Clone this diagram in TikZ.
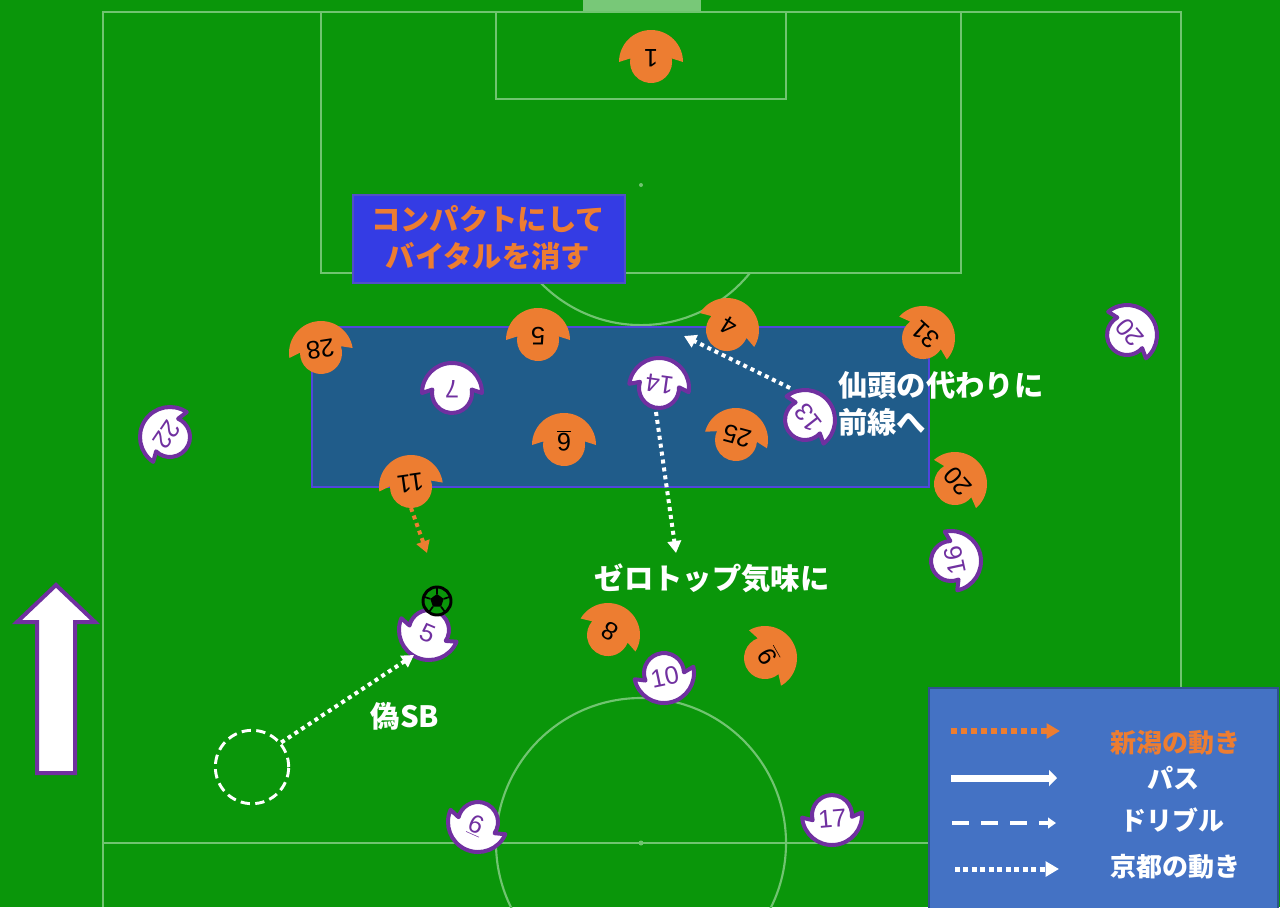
\documentclass[tikz,border=0pt]{standalone}
\usepackage{fontspec}
\newfontfamily\jpf{Noto Sans CJK JP}
\newfontfamily\numf{Liberation Sans}
\usetikzlibrary{arrows.meta}
\definecolor{grass}{RGB}{10,150,10}
\definecolor{fline}{RGB}{112,196,112}
\definecolor{goalc}{RGB}{120,200,120}
\definecolor{nig}{RGB}{237,125,49}
\definecolor{kyo}{RGB}{112,48,160}
\definecolor{legblue}{RGB}{68,114,196}
\definecolor{legedge}{RGB}{47,82,143}
\definecolor{zone}{RGB}{32,92,138}
\definecolor{zoneedge}{RGB}{80,70,220}
\definecolor{titlebox}{RGB}{52,60,228}
\definecolor{titleedge}{RGB}{80,80,200}
\newcommand\nplayer[5]{%
  \begin{scope}[shift={(#2,#3)},rotate=#4]
    \fill[nig] (-32,0) arc[start angle=180,end angle=360,radius=32] -- (20.7,-3.6) arc[start angle=-10,end angle=190,radius=21] -- cycle;
    \node[numn,rotate=#4+180] (#1) at (0,-4) {#5};
  \end{scope}}
\newcommand\kplayer[5]{%
  \begin{scope}[shift={(#2,#3)},rotate=#4]
    \filldraw[fill=white,draw=kyo,line width=3pt,line join=round] (-30,0) arc[start angle=180,end angle=360,radius=30] -- (19.7,-3.5) arc[start angle=-10,end angle=190,radius=20] -- cycle;
    \node[numk,rotate=#4+180] (#1) at (0,-4) {#5};
  \end{scope}}
\begin{document}
\begin{tikzpicture}[x=0.75pt,y=-0.75pt,
  fl/.style={draw=fline,line width=1.6pt},
  numn/.style={font=\numf\fontsize{19}{19}\selectfont,text=black,inner sep=0pt},
  numk/.style={font=\numf\fontsize{19}{19}\selectfont,text=kyo,inner sep=0pt},
  jtxt/.style={font=\jpf\bfseries\fontsize{22}{27.75}\selectfont,text=white,inner sep=0pt},
  legtxt/.style={font=\jpf\bfseries\fontsize{19.5}{22}\selectfont,text=white,inner sep=0pt},
  wdot/.style={draw=white,line width=3pt,dash pattern=on 3pt off 3pt,-{Triangle[length=9pt,width=10pt]}},
  odot/.style={draw=nig,line width=3pt,dash pattern=on 3pt off 3pt,-{Triangle[length=9pt,width=10pt]}}]
\fill[grass] (0,0) rectangle (1280,907);
\useasboundingbox (0,0) rectangle (1280,907);
% field
\fill[goalc] (583,0) rectangle (701,12);
\draw[fl] (103,907) -- (103,12) -- (1181,12) -- (1181,907);
\draw[fl] (321,12) -- (321,273) -- (961,273) -- (961,12);
\draw[fl] (496,12) -- (496,99) -- (786,99) -- (786,12);
\draw[fl] (749.9,273) arc[start angle=38.9,end angle=141.1,radius=140];
\fill[fline] (641,185) circle[radius=2];
\draw[fl] (103,843) -- (1181,843);
\draw[fl] (641,843) circle[radius=145];
\fill[fline] (641,843) circle[radius=2.5];
% zone and title
\draw[fill=zone,draw=zoneedge,line width=1pt] (312,327) rectangle (929,487);
\draw[fill=titlebox,draw=titleedge,line width=1pt] (353,195) rectangle (625,283);
\node[jtxt,text=nig,align=center] (title) at (488,238) {コンパクトにして\\バイタルを消す};
% big arrow
\draw[kyo,line width=3pt,fill=white,line join=miter] (37,773) -- (75,773) -- (75,622) -- (95,622) -- (56,585) -- (17,622) -- (37,622) -- cycle;
% texts
\node[jtxt,align=left,anchor=west] (sento) at (838,404) {仙頭の代わりに\\前線へ};
\node[jtxt] (zero) at (712,578) {ゼロトップ気味に};
\node[jtxt] (gisb) at (405,716) {偽SB};
% Niigata players
\nplayer{n1}{651}{62}{0}{1}
\nplayer{n28}{321}{353}{9}{28}
\nplayer{n5}{538}{340}{0}{5}
\nplayer{n4}{727}{330}{-32}{4}
\nplayer{n31}{923}{338}{-42}{31}
\nplayer{n20}{955}{484}{-49}{20}
\nplayer{n11}{411}{487}{8}{11}
\nplayer{n6}{564}{445}{0}{\underline{6}}
\nplayer{n25}{736}{440}{-15}{25}
\nplayer{n8}{608}{635}{-31}{8}
\nplayer{n9}{765}{658}{-60}{\underline{9}}
% Kyoto players
\kplayer{k7}{452}{393}{0}{7}
\kplayer{k14}{659}{388}{-8}{14}
\kplayer{k13}{805}{420}{-52}{13}
\kplayer{k20}{1127}{335}{-51}{20}
\kplayer{k16}{951}{561}{-78}{16}
\kplayer{k22}{170}{437}{56}{22}
\kplayer{k5}{429}{630}{157}{5}
\kplayer{k10}{664}{673}{192}{10}
\kplayer{k6}{478}{822}{156}{\underline{6}}
\kplayer{k17}{832}{815}{185}{17}
% ball
\begin{scope}[shift={(437,601)}]
  \coordinate (ball) at (0,0);
  \draw[black,line width=2.2pt,fill=grass] (0,0) circle[radius=14];
  \fill[black] (0,-7) -- (6.66,-2.16) -- (4.11,5.66) -- (-4.11,5.66) -- (-6.66,-2.16) -- cycle;
  \draw[black,line width=1.3pt] (0,-7) -- (0,-14) (6.66,-2.16) -- (13.3,-4.3) (4.11,5.66) -- (8.2,11.3) (-4.11,5.66) -- (-8.2,11.3) (-6.66,-2.16) -- (-13.3,-4.3);
\end{scope}
% ghost circle and arrows
\node[draw=white,circle,line width=2.2pt,minimum size=55pt,inner sep=0pt,dash pattern=on 7pt off 4pt] (ghost) at (252,767) {};
\coordinate (k5a) at (414,655);
\draw[wdot] (ghost.40) -- (k5a);
\coordinate (a13s) at (790,388);
\coordinate (a13e) at (684,336);
\draw[wdot] (a13s) -- (a13e);
\coordinate (a14s) at (656,412);
\coordinate (a14e) at (676,553);
\draw[wdot] (a14s) -- (a14e);
\coordinate (a11s) at (411,508);
\coordinate (a11e) at (427,553);
\draw[odot] (a11s) -- (a11e);
% legend
\draw[fill=legblue,draw=legedge,line width=1pt] (929,688) rectangle (1278,915);
\coordinate (l1s) at (951,731); \coordinate (l1e) at (1060,731);
\draw[draw=nig,line width=4.5pt,dash pattern=on 4.5pt off 3pt,-{Triangle[length=10pt,width=11pt]}] (l1s) -- (l1e);
\node[legtxt,text=nig] (l1t) at (1175,743) {新潟の動き};
\coordinate (l2s) at (951,778); \coordinate (l2e) at (1057,778);
\draw[draw=white,line width=5.25pt,-{Triangle[length=6pt,width=12pt]}] (l2s) -- (l2e);
\node[legtxt] (l2t) at (1173,778) {パス};
\coordinate (l3s) at (952,823); \coordinate (l3e) at (1056,823);
\draw[draw=white,line width=3pt,dash pattern=on 12.75pt off 9pt,-{Triangle[length=6pt,width=8pt]}] (l3s) -- (l3e);
\node[legtxt] (l3t) at (1172,820) {ドリブル};
\coordinate (l4s) at (955,869); \coordinate (l4e) at (1059,869);
\draw[draw=white,line width=3.75pt,dash pattern=on 3.75pt off 2.6pt,-{Triangle[length=10pt,width=11pt]}] (l4s) -- (l4e);
\node[legtxt] (l4t) at (1175,867) {京都の動き};
\end{tikzpicture}
\end{document}
